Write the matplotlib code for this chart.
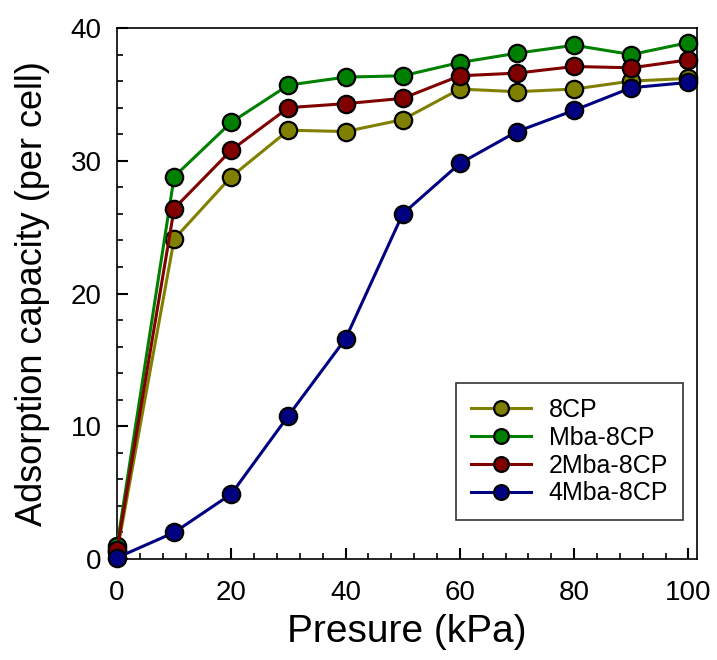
import matplotlib
matplotlib.use("Agg")
import matplotlib.pyplot as plt
from matplotlib.ticker import MultipleLocator

plt.rcParams['font.family'] = ['Liberation Sans', 'DejaVu Sans']

# Pressure points (kPa)
pressure = [0, 10, 20, 30, 40, 50, 60, 70, 80, 90, 100]

# Adsorption capacity per cell
cp8 = [0.5, 24.1, 28.8, 32.3, 32.2, 33.1, 35.4, 35.2, 35.4, 36.0, 36.2]
mba_8cp = [1.0, 28.8, 32.9, 35.7, 36.3, 36.4, 37.4, 38.1, 38.7, 38.0, 38.9]
mba2_8cp = [0.7, 26.4, 30.8, 34.0, 34.3, 34.7, 36.4, 36.6, 37.1, 37.0, 37.6]
mba4_8cp = [0.1, 2.0, 4.9, 10.8, 16.6, 26.0, 29.8, 32.2, 33.8, 35.5, 35.9]

series = [
    ("8CP", cp8, "#808000"),
    ("Mba-8CP", mba_8cp, "#008000"),
    ("2Mba-8CP", mba2_8cp, "#800000"),
    ("4Mba-8CP", mba4_8cp, "#000080"),
]

fig = plt.figure(figsize=(7.17, 6.6), dpi=100)
ax = fig.add_axes([0.1632, 0.153, 0.809, 0.8046])

for label, vals, color in series:
    ax.plot(pressure, vals, "-o", color=color, lw=2.2, ms=12.5,
            markerfacecolor=color, markeredgecolor="black", markeredgewidth=1.6,
            label=label, clip_on=False, zorder=3)

ax.set_xlim(0, 101.5)
ax.set_ylim(0, 40)
ax.xaxis.set_major_locator(MultipleLocator(20))
ax.xaxis.set_minor_locator(MultipleLocator(4))
ax.yaxis.set_major_locator(MultipleLocator(10))
ax.yaxis.set_minor_locator(MultipleLocator(2))
ax.tick_params(which="major", direction="in", length=8, width=1.5, labelsize=20)
ax.tick_params(which="minor", direction="in", length=4, width=1.2)
ax.tick_params(axis="x", which="major", pad=15)
ax.tick_params(axis="y", which="major", pad=11)
ax.tick_params(top=False, right=False, which="both")
for sp in ax.spines.values():
    sp.set_linewidth(1.2)

ax.set_xlabel("Presure (kPa)", fontsize=28, labelpad=6)
ax.set_ylabel("Adsorption capacity (per cell)", fontsize=26)
ax.yaxis.set_label_coords(-0.116, 0.5)

leg = ax.legend(loc="lower right", bbox_to_anchor=(0.976, 0.073), fontsize=18,
                frameon=True, fancybox=False, edgecolor="black",
                handlelength=2.4, markerscale=0.85, borderpad=0.6,
                labelspacing=0.15, handletextpad=0.7, borderaxespad=0)
leg.get_frame().set_linewidth(1.2)

fig.savefig("out.png", dpi=100)
